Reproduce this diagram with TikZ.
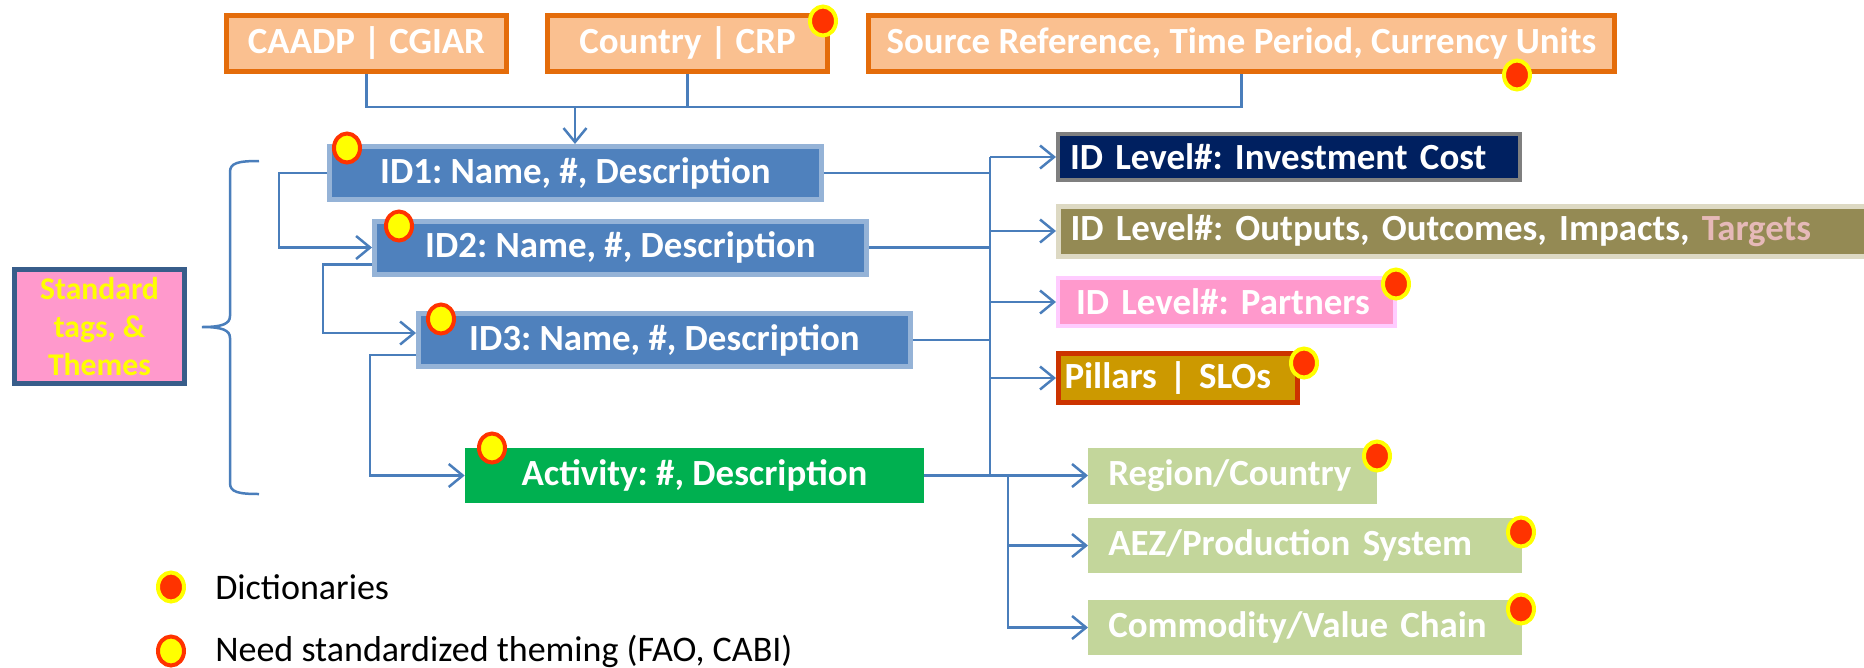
\documentclass[tikz,border=0pt]{standalone}
\usepackage{fontspec}
\setmainfont{Carlito}
\frenchspacing
\usetikzlibrary{positioning, arrows.meta, shapes.geometric}

\definecolor{orangefill}{HTML}{FAC090}
\definecolor{orangerim}{HTML}{E46C0A}
\definecolor{idblue}{HTML}{4F81BD}
\definecolor{idrim}{HTML}{95B3D7}
\definecolor{actgreen}{HTML}{00B050}
\definecolor{navy}{HTML}{002060}
\definecolor{rimgray}{HTML}{7F7F7F}
\definecolor{olive}{HTML}{948A54}
\definecolor{beige}{HTML}{DDD9C3}
\definecolor{tagpink}{HTML}{FF99CC}
\definecolor{pinkrim}{HTML}{FFCCFF}
\definecolor{gold}{HTML}{CC9900}
\definecolor{rust}{HTML}{CC3300}
\definecolor{leafgreen}{HTML}{C3D69B}
\definecolor{targetpink}{HTML}{E6B9B8}
\definecolor{linkblue}{HTML}{4A7EBB}
\definecolor{tagrim}{HTML}{385D8A}
\definecolor{dotred}{HTML}{FF3300}
\definecolor{dotyellow}{HTML}{FFFF00}

\tikzset{
    orangebox/.style={
        rectangle,
        draw=orangerim, % orange border
        fill=orangefill,
        line width=0.1cm,
        minimum height=1.12cm,
        inner sep=0,
        text=white,
        font=\bfseries\fontsize{21}{25}\selectfont
    },
    idbox/.style={
        rectangle,
        draw=idrim, % light blue rim
        fill=idblue,
        line width=0.1cm,
        minimum width=9.84cm,
        minimum height=1.06cm,
        inner sep=0,
        text=white,
        font=\bfseries\fontsize{21}{25}\selectfont
    },
    actbox/.style={
        rectangle,
        fill=actgreen, % no border
        minimum width=9.18cm,
        minimum height=1.1cm,
        inner sep=0,
        text=white,
        font=\bfseries\fontsize{21}{25}\selectfont
    },
    levelbox/.style={
        rectangle,
        anchor=west,
        align=left,
        inner ysep=0,
        inner xsep=0.24cm,
        line width=0.08cm,
        text=white,
        font=\bfseries\fontsize{21}{25}\selectfont
    },
    leafbox/.style={
        rectangle,
        anchor=west,
        align=left,
        fill=leafgreen,
        inner ysep=0,
        inner xsep=0.4cm,
        text width=#1,
        text=white,
        font=\bfseries\fontsize{21}{25}\selectfont
    },
    tagbox/.style={
        rectangle,
        draw=tagrim,
        fill=tagpink,
        line width=0.1cm,
        minimum width=3.4cm,
        minimum height=2.28cm,
        align=center,
        inner sep=0,
        text=dotyellow, % yellow text
        font=\bfseries\fontsize{18}{21.5}\selectfont
    },
    dictdot/.style={
        ellipse,
        draw=dotyellow,
        fill=dotred, % red inside, yellow rim
        line width=0.08cm,
        minimum width=0.52cm,
        minimum height=0.58cm,
        inner sep=0
    },
    themedot/.style={
        ellipse,
        draw=dotred,
        fill=dotyellow, % yellow inside, red rim
        line width=0.08cm,
        minimum width=0.52cm,
        minimum height=0.58cm,
        inner sep=0
    },
    keytext/.style={
        anchor=west,
        inner sep=0,
        font=\fontsize{20.5}{24}\selectfont
    },
    linkline/.style={
        draw=linkblue,
        line width=0.05cm
    },
    linkarrow/.style={
        linkline,
        -{Straight Barb[length=0.28cm, width=0.46cm]}
    }
}

\begin{document}
\begin{tikzpicture}[x=0.02cm, y=-0.02cm]
    \useasboundingbox (0,0) rectangle (1864,667);

    % top row
    \node[orangebox, minimum width=5.6cm] (caadp) at (366.5,43.5) {CAADP | CGIAR};
    \node[orangebox, minimum width=5.6cm] (country) at (687.5,43.5) {Country | CRP};
    \node[orangebox, minimum width=14.92cm] (source) at (1241.5,43.5) {Source Reference, Time Period, Currency Units};

    % ID levels
    \node[idbox] (id1) at (575.5,173) {ID1: Name, \#, Description};
    \node[idbox] (id2) at (620.5,247.5) {ID2: Name, \#, Description};
    \node[idbox] (id3) at (664.5,340) {ID3: Name, \#, Description};
    \node[actbox] (act) at (694.5,475.5) {Activity: \#, Description};

    \node[tagbox] (tags) at (99.5,326.5) {Standard\\tags, \&\\Themes};

    % right column
    \node[levelbox, fill=navy, draw=rimgray, text width=8.76cm, minimum height=0.92cm] (cost) at (1056,157) {ID Level\#: Investment Cost};
    \node[levelbox, fill=olive, draw=beige, line width=0.1cm, text width=15.92cm, minimum height=1.0cm] (outp) at (1056,231)
        {ID Level\#: Outputs, Outcomes, Impacts, \textcolor{targetpink}{Targets}};
    \node[levelbox, fill=tagpink, draw=pinkrim, inner xsep=0.36cm, text width=6.02cm, minimum height=0.96cm] (partn) at (1056,302) {ID Level\#: Partners};
    \node[levelbox, fill=gold, draw=rust, line width=0.1cm, inner xsep=0.12cm, text width=4.54cm, minimum height=0.98cm] (pill) at (1056,378) {Pillars | SLOs};

    \node[leafbox=4.98cm, minimum height=1.12cm] (region) at (1088,476) {Region/Country};
    \node[leafbox=7.88cm, minimum height=1.1cm] (aez) at (1088,545.5) {AEZ/Production System};
    \node[leafbox=7.88cm, minimum height=1.1cm] (comm) at (1088,627.5) {Commodity/Value Chain};

    % connectors
    \coordinate (topbar) at (575,107);
    \draw[linkline] (caadp.south) |- (topbar) -| (source.south);
    \draw[linkline] (country.south) -- (country.south |- topbar);
    \draw[linkarrow] (topbar) -- (topbar |- id1.north);

    \draw[linkarrow] (id1.west) -- ++(-48,0) |- (id2.west);
    \draw[linkarrow] ([yshift=-0.34cm]id2.west) -- ++(-49,0) |- ([yshift=0.14cm]id3.west);
    \draw[linkarrow] ([yshift=-0.3cm]id3.west) -- ++(-46,0) |- (act.west);

    \coordinate (rbus) at (990,0);
    \foreach \n in {id1, id2, id3}
        \draw[linkline] (\n.east) -- (\n.east -| rbus);
    \draw[linkline] (rbus |- cost.west) -- (rbus |- act.east);
    \foreach \n in {cost, outp, partn, pill}
        \draw[linkarrow] (rbus |- \n.west) -- (\n.west);

    \coordinate (gbus) at (1008,0);
    \draw[linkarrow] (act.east) -- (act.east -| region.west);
    \foreach \n in {aez, comm}
        \draw[linkarrow] (gbus |- act.east) |- (\n.west);

    % brace
    \draw[linkline] (259,161) .. controls (238,161) and (230,163) .. (230,172) -- (230,316)
        .. controls (230,324) and (222,327) .. (202,327)
        .. controls (222,327) and (230,330) .. (230,338) -- (230,483)
        .. controls (230,492) and (238,494) .. (259,494);

    % dots
    \node[dictdot] (dotcountry) at (823,21) {};
    \node[dictdot] (dotsource) at (1517,75) {};
    \node[themedot] (dotid1) at (347,148) {};
    \node[themedot] (dotid2) at (399,226) {};
    \node[themedot] (dotid3) at (441,319) {};
    \node[themedot] (dotact) at (492,448) {};
    \node[dictdot] (dotpartn) at (1396,284) {};
    \node[dictdot] (dotpill) at (1304,363) {};
    \node[dictdot] (dotregion) at (1377,456) {};
    \node[dictdot] (dotaez) at (1521,532) {};
    \node[dictdot] (dotcomm) at (1521,609) {};

    % legend
    \node[dictdot] (keydict) at (171,587) {};
    \node[keytext, right=0.58cm of keydict] (keydicttext) {Dictionaries};
    \node[themedot] (keytheme) at (171,651) {};
    \node[keytext, right=0.58cm of keytheme] (keythemetext) {Need standardized theming (FAO, CABI)};
\end{tikzpicture}
\end{document}
